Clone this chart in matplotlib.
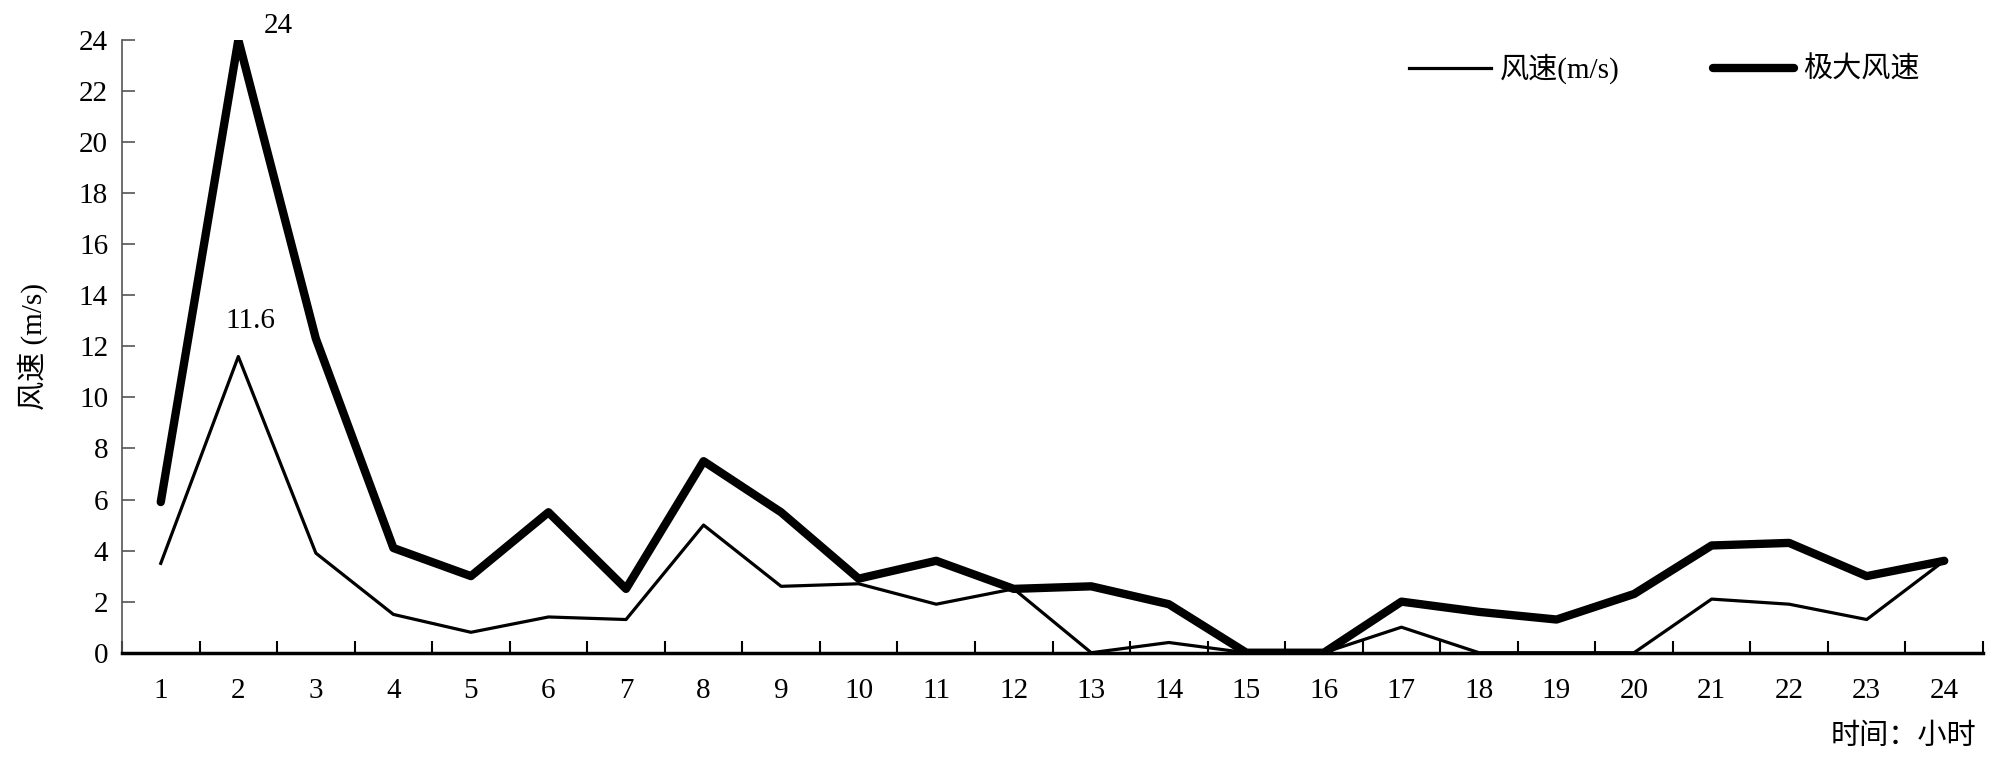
import matplotlib
matplotlib.use("Agg")
import matplotlib.pyplot as plt
import numpy as np

plt.rcParams['font.family'] = ['Liberation Serif', 'Noto Sans CJK SC', 'DejaVu Sans']

hours = list(range(1, 25))
wind = [3.5, 11.6, 3.9, 1.5, 0.8, 1.4, 1.3, 5.0, 2.6, 2.7, 1.9, 2.5,
        0.0, 0.4, 0.0, 0.0, 1.0, 0.0, 0.0, 0.0, 2.1, 1.9, 1.3, 3.6]
gust = [5.9, 24.0, 12.3, 4.1, 3.0, 5.5, 2.5, 7.5, 5.5, 2.9, 3.6, 2.5,
        2.6, 1.9, 0.0, 0.0, 2.0, 1.6, 1.3, 2.3, 4.2, 4.3, 3.0, 3.6]
yticks = list(range(0, 25, 2))

fs = 21

fig = plt.figure(figsize=(20, 7.67), dpi=100)
ax = fig.add_axes([0.061, 0.149, 0.9305, 0.799])

ax.plot(hours, wind, color='black', lw=2.3, label='风速(m/s)')
ax.plot(hours, gust, color='black', lw=6, solid_capstyle='round', label='极大风速')

ax.annotate('24', (2, 24), xytext=(40, 14), textcoords='offset pixels',
            ha='center', va='center', fontsize=fs)
ax.annotate('11.6', (2, 11.6), xytext=(12, 36), textcoords='offset pixels',
            ha='center', va='center', fontsize=fs)

ax.set_xlim(0.5, 24.5)
ax.set_ylim(0, 24)
ax.set_xticks(hours)
ax.set_xticklabels([str(h) for h in hours])
ax.set_xticks(np.arange(0.5, 25, 1), minor=True)
ax.tick_params(axis='x', which='major', length=0, pad=18, labelsize=fs)
ax.tick_params(axis='x', which='minor', direction='in', length=9, width=1.5)
ax.set_yticks(yticks)
ax.tick_params(axis='y', direction='in', length=9, width=1.2, color='#555555',
               labelsize=fs, pad=10)

for s in ['top', 'right']:
    ax.spines[s].set_visible(False)
ax.spines['left'].set_color('#555555')
ax.spines['left'].set_linewidth(1.2)
ax.spines['bottom'].set_linewidth(2.5)

ax.set_ylabel('风速 (m/s)', fontsize=fs, labelpad=22)
fig.text(0.988, 0.04, '时间：小时', ha='right', va='center', fontsize=fs)

ax.legend(loc='upper right', bbox_to_anchor=(0.98, 1.02), ncol=2, frameon=False,
          fontsize=fs, handlelength=2.8, columnspacing=3.2, handletextpad=0.3)

fig.savefig('out.png', dpi=100)
